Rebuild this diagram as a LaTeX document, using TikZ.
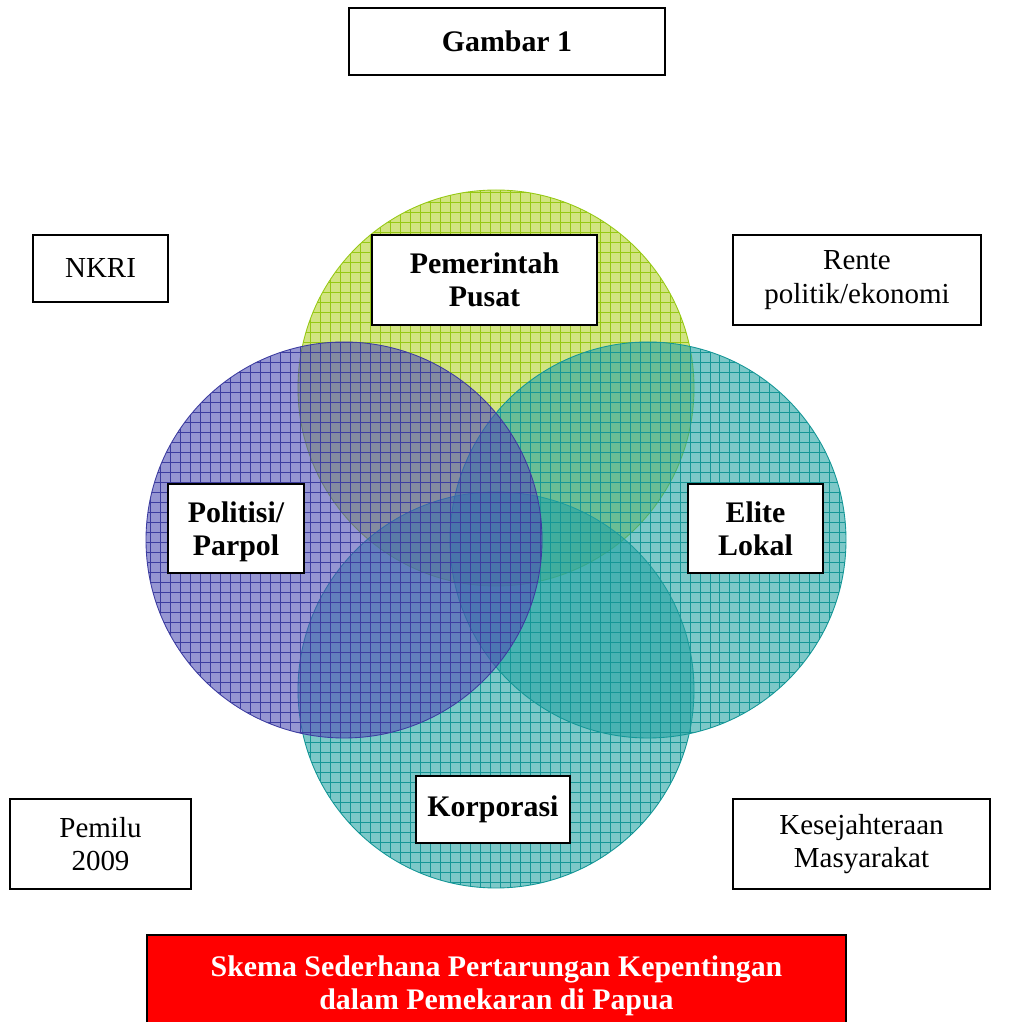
\documentclass[tikz,border=0pt]{standalone}
\usepackage{fontspec}
\setmainfont{Liberation Serif}
\usetikzlibrary{positioning}
\definecolor{limefill}{RGB}{180,210,47}
\definecolor{limeline}{RGB}{150,200,20}
\definecolor{purplefill}{RGB}{80,80,180}
\definecolor{purpleline}{RGB}{60,60,160}
\definecolor{tealfill}{RGB}{38,163,163}
\definecolor{tealline}{RGB}{20,150,150}
\definecolor{titlered}{RGB}{255,0,0}

\begin{document}
\begin{tikzpicture}[x=0.02cm, y=0.02cm,
    labelbox/.style={rectangle, draw, line width=1pt, fill=white, align=center, inner sep=0pt, font=\fontsize{16.5}{19}\selectfont},
    actor/.style={labelbox, font=\fontsize{17}{19}\selectfont\bfseries},
    titlebox/.style={rectangle, draw, line width=1.5pt, fill=titlered, text=white, align=center, inner sep=0pt, font=\fontsize{17}{19}\selectfont\bfseries}
]
    \useasboundingbox (0,0) rectangle (1018,1022);

    % Lingkaran kepentingan
    \foreach \cx/\cy/\fillc/\linec in {496/634/limefill/limeline, 496/332/tealfill/tealline, 648/482/tealfill/tealline, 344/482/purplefill/purpleline}{
        \begin{scope}
            \fill[\fillc, opacity=0.6] (\cx,\cy) circle (198);
            \clip (\cx,\cy) circle (198);
            \draw[\linec, line width=0.4pt, step=0.2cm] (\cx-200,\cy-200) grid (\cx+200,\cy+200);
        \end{scope}
        \draw[\linec, line width=0.5pt] (\cx,\cy) circle (198);
    }

    % Judul
    \node[labelbox, minimum width=6.32cm, minimum height=1.34cm, font=\fontsize{17}{19}\selectfont\bfseries] (gambar) at (507,980.5) {Gambar 1};

    % Aktor
    \node[actor, minimum width=4.5cm, minimum height=1.8cm] (pusat) at (484.5,742) {Pemerintah\\Pusat};
    \node[actor, minimum width=2.72cm, minimum height=1.78cm, text depth=0pt] (parpol) at (236,493.5) {Politisi/\\Parpol};
    \node[actor, minimum width=2.7cm, minimum height=1.78cm] (elite) at (755.5,493.5) {Elite\\Lokal};
    \node[actor, minimum width=3.08cm, minimum height=1.34cm] (korporasi) at (493,212.5) {Korporasi};

    % Kepentingan di sudut
    \node[labelbox, minimum width=2.7cm, minimum height=1.34cm] (nkri) at (100.5,753.5) {NKRI};
    \node[labelbox, minimum width=4.96cm, minimum height=1.8cm] (rente) at (857,742) {Rente\\politik/ekonomi};
    \node[labelbox, minimum width=3.62cm, minimum height=1.8cm] (pemilu) at (100.5,178) {Pemilu\\2009};
    \node[labelbox, minimum width=5.14cm, minimum height=1.8cm] (sejahtera) at (861.5,178) {Kesejahteraan\\Masyarakat};

    % Keterangan
    \node[titlebox, minimum width=13.98cm, minimum height=2.04cm] (skema) at (496.5,36) {Skema Sederhana Pertarungan Kepentingan\\dalam Pemekaran di Papua};
\end{tikzpicture}
\end{document}
